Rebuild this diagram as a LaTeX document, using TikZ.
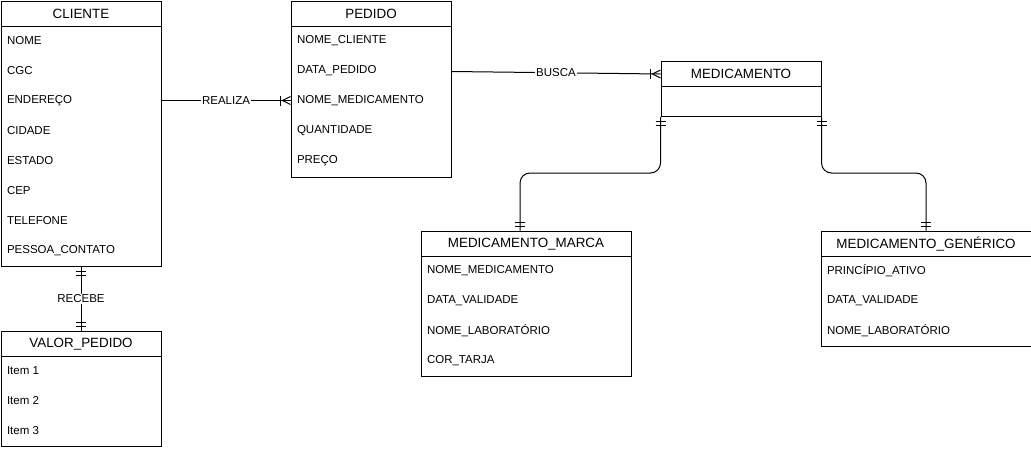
\documentclass[tikz,border=0pt]{standalone}
\usepackage{fontspec}
\setmainfont{Liberation Sans}
\usetikzlibrary{calc}
\tikzset{
 ent/.style={draw, anchor=north west, inner sep=0pt, fill=white},
 hdr/.style={font=\fontsize{13.4}{15}\selectfont, inner sep=0pt},
 rowtext/.style={anchor=west, font=\fontsize{11.5}{13}\selectfont, inner sep=0pt},
 lbl/.style={fill=white, font=\fontsize{11.5}{13}\selectfont, inner sep=1pt},
 conn/.style={line width=1pt}
}
\newcommand\entbox[6]{%
 \node[ent, minimum width=#4pt, minimum height=#5pt] (#1) at (#2,#3) {};
 \draw (#1.north west) ++(0,25.5) -- ++(#4,0);
 \node[hdr] (#1-t) at ($(#1.north)+(0,13.5)$) {#6};}
\newcommand\entrow[3]{\node[rowtext] (#1-#2) at ($(#1.north west)+(6,10+30*#2)$) {#3};}
% crow's foot (one or many), entity on the right of point
\newcommand\crowR[1]{%
 \draw ($(#1)+(-8,0)$) -- ($(#1)+(0,-4)$);
 \draw ($(#1)+(-8,0)$) -- ($(#1)+(0,4)$);
 \draw ($(#1)+(-10,-5)$) -- ($(#1)+(-10,5)$);}
% double bar, entity above (d=1) or below (d=-1)
\newcommand\dbar[2]{%
 \draw ($(#1)+(-5,4*#2)$) -- ($(#1)+(5,4*#2)$);
 \draw ($(#1)+(-5,8*#2)$) -- ($(#1)+(5,8*#2)$);}
\begin{document}
\begin{tikzpicture}[x=1pt,y=-1pt,line width=1pt]
\useasboundingbox (0,0) rectangle (1031,450);

\entbox{cliente}{0.5}{0.5}{160}{265.5}{CLIENTE}
\entrow{cliente}{1}{NOME}
\entrow{cliente}{2}{CGC}
\entrow{cliente}{3}{ENDEREÇO}
\entrow{cliente}{4}{CIDADE}
\entrow{cliente}{5}{ESTADO}
\entrow{cliente}{6}{CEP}
\entrow{cliente}{7}{TELEFONE}
\entrow{cliente}{8}{PESSOA\_CONTATO}

\entbox{pedido}{290.5}{0.5}{160}{176}{PEDIDO}
\entrow{pedido}{1}{NOME\_CLIENTE}
\entrow{pedido}{2}{DATA\_PEDIDO}
\entrow{pedido}{3}{NOME\_MEDICAMENTO}
\entrow{pedido}{4}{QUANTIDADE}
\entrow{pedido}{5}{PREÇO}

\entbox{med}{660.5}{60.5}{160}{55.5}{MEDICAMENTO}

\entbox{marca}{420.5}{230.5}{210}{145}{MEDICAMENTO\_MARCA}
\entrow{marca}{1}{NOME\_MEDICAMENTO}
\entrow{marca}{2}{DATA\_VALIDADE}
\entrow{marca}{3}{NOME\_LABORATÓRIO}
\entrow{marca}{4}{COR\_TARJA}

\entbox{gen}{820.5}{230.5}{210}{115}{MEDICAMENTO\_GENÉRICO}
\entrow{gen}{1}{PRINCÍPIO\_ATIVO}
\entrow{gen}{2}{DATA\_VALIDADE}
\entrow{gen}{3}{NOME\_LABORATÓRIO}

\entbox{valor}{0.5}{330.5}{160}{115}{VALOR\_PEDIDO}
\entrow{valor}{1}{Item 1}
\entrow{valor}{2}{Item 2}
\entrow{valor}{3}{Item 3}

% REALIZA
\coordinate (r1) at (cliente-3 -| cliente.east);
\coordinate (r2) at (pedido-3 -| pedido.west);
\draw[conn] (r1) -- node[lbl] {REALIZA} (r2);
\crowR{r2}

% BUSCA
\coordinate (b1) at ($(pedido-2 -| pedido.east)+(0,1)$);
\coordinate (b2) at ($(med.north west)+(0,13.5)$);
\draw[conn] (b1) -- node[lbl] {BUSCA} (b2);
\crowR{b2}

% MEDICAMENTO -> MARCA
\coordinate (m1) at (med.south west);
\coordinate (m2) at (marca.north -| 520,0);
\draw[conn, rounded corners=10pt] (m1) -- (m1 |- 0,173) -- (m2 |- 0,173) -- (m2);
\dbar{m1}{1}
\dbar{m2}{-1}

% MEDICAMENTO -> GENERICO
\coordinate (g1) at (med.south east);
\coordinate (g2) at (gen.north);
\draw[conn, rounded corners=10pt] (g1) -- (g1 |- 0,173) -- (g2 |- 0,173) -- (g2);
\dbar{g1}{1}
\dbar{g2}{-1}

% RECEBE
\coordinate (c1) at (cliente.south);
\coordinate (c2) at (valor.north);
\draw[conn] (c1) -- node[lbl] {RECEBE} (c2);
\dbar{c1}{1}
\dbar{c2}{-1}
\end{tikzpicture}
\end{document}
